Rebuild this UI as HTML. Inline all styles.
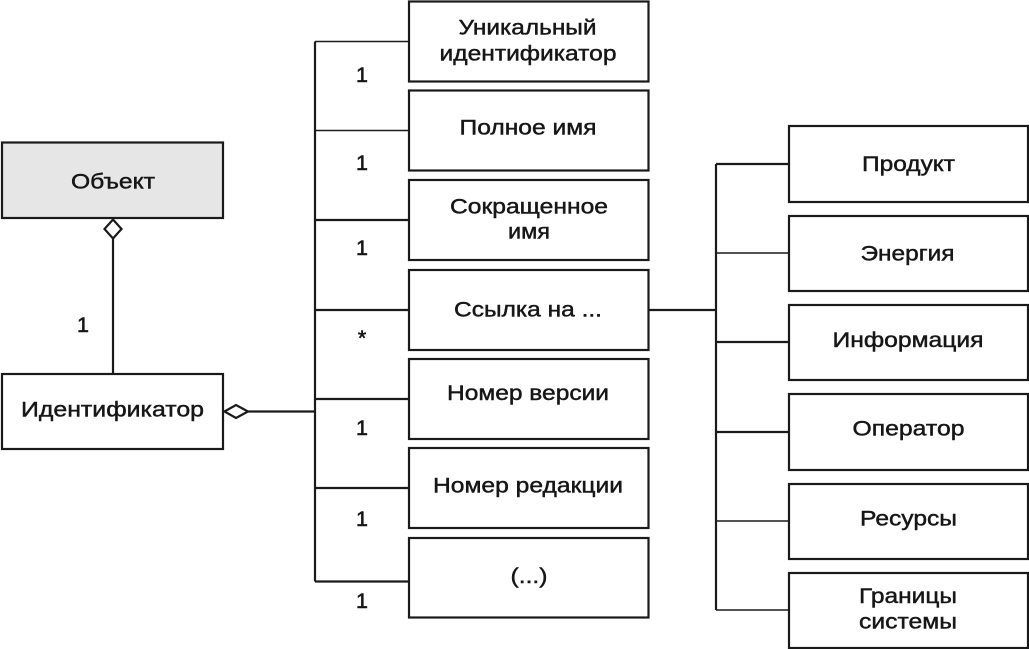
<!DOCTYPE html>
<html><head><meta charset="utf-8"><style>
html,body{margin:0;padding:0;background:#fff}
svg{display:block}
text{font-family:"Liberation Sans",Arial,sans-serif;font-size:21.500px;fill:#161616;stroke:#161616;stroke-width:.45px;text-anchor:middle}
text.n{stroke-width:.6px}
.b{fill:#fff;stroke:#1a1a1a;stroke-width:2.200}
.l{fill:none;stroke:#1a1a1a;stroke-width:2.200}
.t{fill:none;stroke:#1a1a1a;stroke-width:1.500}
</style></head><body>
<svg width="1029" height="649" viewBox="0 0 1029 649" xmlns="http://www.w3.org/2000/svg">
<rect x="2" y="142.500" width="221" height="75.500" fill="#e6e6e6" stroke="#1a1a1a" stroke-width="2.200"/>
<rect class="b" x="2" y="374" width="221" height="75"/>
<path class="l" d="M113 238V374M248 411.500H315M315 41.500V581.500M716 164V610M648 310H716"/>
<path class="l" d="M113 219.500L121.500 229L113 238.500L104.500 229Z" fill="#fff"/>
<path class="l" d="M224.500 411.500L236 405L248 411.500L236 418Z" fill="#fff"/>
<path class="t" d="M315 41.500H409M315 130.500H409M716 253H789M716 521H789M716 610H789"/>
<path class="l" d="M315 220H409M315 310H409M315 399H409M315 488H409M315 581.500H409M716 164H789M716 342H789M716 432H789"/>
<rect class="b" x="409" y="1.500" width="239.500" height="80"/>
<rect class="b" x="409" y="90.500" width="239.500" height="80"/>
<rect class="b" x="409" y="180" width="239.500" height="80"/>
<rect class="b" x="409" y="270" width="239.500" height="80"/>
<rect class="b" x="409" y="359" width="239.500" height="80"/>
<rect class="b" x="409" y="448" width="239.500" height="80"/>
<rect class="b" x="409" y="538" width="239.500" height="79.500"/>
<rect class="b" x="789" y="126" width="239" height="76"/>
<rect class="b" x="789" y="216" width="239" height="75"/>
<rect class="b" x="789" y="305" width="239" height="75"/>
<rect class="b" x="789" y="394" width="239" height="76"/>
<rect class="b" x="789" y="484" width="239" height="75"/>
<rect class="b" x="789" y="573" width="239" height="75"/>
<text x="113" y="188.500" textLength="84" lengthAdjust="spacingAndGlyphs">Объект</text>
<text x="112.500" y="416.500" textLength="183" lengthAdjust="spacingAndGlyphs">Идентификатор</text>
<text x="527.500" y="34.500" textLength="138" lengthAdjust="spacingAndGlyphs">Уникальный</text>
<text x="528" y="60.500" textLength="177" lengthAdjust="spacingAndGlyphs">идентификатор</text>
<text x="528" y="134.500" textLength="137" lengthAdjust="spacingAndGlyphs">Полное имя</text>
<text x="529" y="213.500" textLength="158" lengthAdjust="spacingAndGlyphs">Сокращенное</text>
<text x="529" y="238.500" textLength="42" lengthAdjust="spacingAndGlyphs">имя</text>
<text x="528" y="316.500" textLength="148" lengthAdjust="spacingAndGlyphs">Ссылка на ...</text>
<text x="528" y="400" textLength="162" lengthAdjust="spacingAndGlyphs">Номер версии</text>
<text x="528" y="492.500" textLength="190" lengthAdjust="spacingAndGlyphs">Номер редакции</text>
<text x="529" y="583" textLength="37" lengthAdjust="spacingAndGlyphs">(...)</text>
<text x="908.500" y="171" textLength="93" lengthAdjust="spacingAndGlyphs">Продукт</text>
<text x="907.500" y="260.500" textLength="94" lengthAdjust="spacingAndGlyphs">Энергия</text>
<text x="908" y="347" textLength="151" lengthAdjust="spacingAndGlyphs">Информация</text>
<text x="908.500" y="435.500" textLength="112" lengthAdjust="spacingAndGlyphs">Оператор</text>
<text x="908.500" y="525.500" textLength="97" lengthAdjust="spacingAndGlyphs">Ресурсы</text>
<text x="908" y="603" textLength="98" lengthAdjust="spacingAndGlyphs">Границы</text>
<text x="908" y="628.500" textLength="98" lengthAdjust="spacingAndGlyphs">системы</text>
<text class="n" x="83" y="332">1</text>
<text class="n" x="362" y="82">1</text>
<text class="n" x="362" y="170">1</text>
<text class="n" x="362" y="255">1</text>
<text class="n" x="362" y="345">*</text>
<text class="n" x="362" y="435">1</text>
<text class="n" x="362" y="526">1</text>
<text class="n" x="362" y="608">1</text>
</svg>
</body></html>
